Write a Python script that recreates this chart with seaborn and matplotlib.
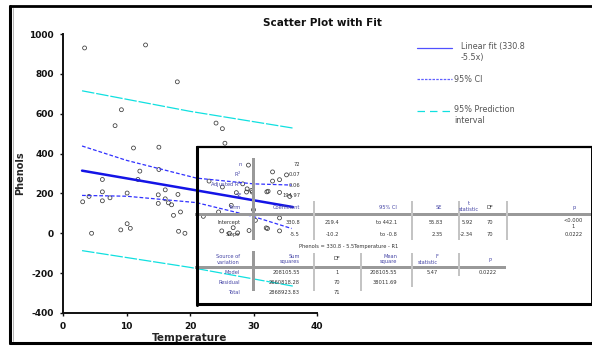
import matplotlib
matplotlib.use("Agg")
import matplotlib.pyplot as plt
import seaborn as sns
import pandas as pd
from matplotlib.patches import Rectangle

# Observations
temperature = [3.4, 13.0, 18.0, 9.2, 8.2, 24.1, 25.1, 11.1, 15.1, 12.1,
               15.1, 6.2, 11.8, 3.1, 4.1, 6.2, 6.2, 7.4, 10.1, 4.5,
               9.1, 10.1, 10.6, 15.0, 15.0, 16.1, 16.1, 16.6, 17.1, 18.1,
               17.4, 18.5, 18.2, 19.2, 25.5, 29.2, 23.0, 27.3, 28.3, 29.0,
               29.7, 28.9, 29.8, 26.5, 25.1, 33.0, 34.1, 33.0, 35.2, 32.1,
               32.3, 34.1, 35.7, 22.1, 30.0, 30.3, 34.1, 25.0, 26.2, 26.8,
               27.5, 29.3, 32.0, 32.2, 34.1, 24.5]
phenols = [930, 945, 760, 620, 540, 553, 525, 428, 432, 312,
           320, 270, 270, 158, 185, 208, 163, 178, 202, 0,
           17, 48, 25, 193, 150, 218, 173, 153, 143, 195,
           90, 107, 10, 0, 452, 342, 262, 204, 248, 223,
           215, 207, 207, 140, 232, 308, 269, 262, 293, 208,
           211, 205, 185, 85, 118, 65, 77, 12, 0, 28,
           2, 14, 27, 24, 12, 107]

# Fitted model and bands
intercept, slope = 330.8, -5.5
fit_x = [3.0, 36.2]
ci_x = [3.0, 10.0, 21.0, 30.0, 36.0]
ci_upper = [438, 366, 277, 248, 242]
ci_lower = [190, 186, 154, 84, 24]
pi_x = [3.0, 20.0, 36.2]
pi_upper = [715, 612, 528]
pi_lower = [-87, -171, -265]

x_ticks = [0, 10, 20, 30, 40]
y_ticks = [-400, -200, 0, 200, 400, 600, 800, 1000]

W, H = 592, 347
BLUE = "#1414e6"
CI_BLUE = "#3030ff"
CYAN = "#10e0e0"
LABEL = "#4646a6"
VALUE = "#333333"

sns.set_style("ticks")
plt.rcParams["font.family"] = ["DejaVu Sans"]
plt.rcParams["axes.unicode_minus"] = False

fig = plt.figure(figsize=(W / 100, H / 100), dpi=100)
ax = fig.add_axes([63 / W, 1 - 313 / H, 254 / W, 279 / H])

pts = pd.DataFrame({"Temperature": temperature, "Phenols": phenols})
sns.scatterplot(data=pts, x="Temperature", y="Phenols", ax=ax, marker="o", s=8,
                facecolor="none", edgecolor="#3a3a3a", linewidth=0.55, zorder=3)

fit_y = [intercept + slope * x for x in fit_x]
sns.lineplot(x=fit_x, y=fit_y, ax=ax, color=BLUE, linewidth=1.8, zorder=4)
for band in (ci_upper, ci_lower):
    sns.lineplot(x=ci_x, y=band, ax=ax, color=CI_BLUE, linewidth=0.9,
                 linestyle=(0, (3, 1.6)), zorder=4)
for band in (pi_upper, pi_lower):
    sns.lineplot(x=pi_x, y=band, ax=ax, color=CYAN, linewidth=0.9,
                 linestyle=(0, (10, 1.5)), zorder=4)

ax.set_xlim(0, 40)
ax.set_ylim(-400, 1000)
ax.set_xticks(x_ticks)
ax.set_yticks(y_ticks)
sns.despine(ax=ax)
for side in ("left", "bottom"):
    ax.spines[side].set_linewidth(1.4)
    ax.spines[side].set_color("#111111")
ax.tick_params(direction="out", length=2.5, width=1, colors="#111111",
               labelsize=6.5, pad=4)
for lab in ax.get_xticklabels() + ax.get_yticklabels():
    lab.set_fontweight("bold")
ax.set_xlabel("Temperature", fontsize=7.5, fontweight="bold", labelpad=1.5)
ax.set_ylabel("Phenols", fontsize=7, fontweight="bold", labelpad=3)
ax.patch.set_alpha(0)

# Pixel-space overlay for title, legend, frame and the summary table
ov = fig.add_axes([0, 0, 1, 1], zorder=5)
ov.set_xlim(0, W)
ov.set_ylim(H, 0)
ov.axis("off")
ov.patch.set_alpha(0)

ov.text(322, 23, "Scatter Plot with Fit", ha="center", va="center",
        fontsize=7.5, fontweight="bold", color="#111111")

# Legend
ov.plot([417, 452], [48, 48], color="#5050ff", lw=0.9)
ov.text(461, 52, "Linear fit (330.8\n-5.5x)", ha="left", va="center",
        fontsize=5.8, color="#555555", linespacing=1.15)
ov.plot([417, 452], [79, 79], color="#6060ff", lw=0.9, linestyle=(0, (2, 1)))
ov.text(454, 79, "95% CI", ha="left", va="center", fontsize=5.8, color="#555555")
ov.plot([417, 452], [111, 111], color=CYAN, lw=0.9, linestyle=(0, (6, 4)))
ov.text(454, 115, "95% Prediction\ninterval", ha="left", va="center",
        fontsize=5.8, color="#555555", linespacing=1.15)

# Outer frame
ov.plot([10, W], [6, 6], color="black", lw=2)
ov.plot([10, 10], [6, 343], color="black", lw=2.2)
ov.plot([10, W], [343, 343], color="black", lw=2.2)
ov.plot([13, 13], [8, 341], color="#aaaaaa", lw=0.6)

# Table frame
ov.plot([197, W], [147, 147], color="black", lw=1.6)
ov.plot([197, 197], [147, 305], color="black", lw=2.2)
ov.plot([197, W], [304, 304], color="black", lw=2.2)
ov.plot([591, 591], [147, 304], color="black", lw=0.7)

GRAY = "#999999"
LIGHT = "#c4c4c4"


def bar(x0, y0, x1, y1, color):
    ov.add_patch(Rectangle((x0, y0), x1 - x0, y1 - y0, color=color, lw=0))


bar(195, 212.5, 591, 215.5, GRAY)
bar(251.5, 158, 254.5, 240, GRAY)
bar(251.5, 251, 254.5, 291, GRAY)
for xv in (314, 412, 459, 507):
    bar(xv - 0.8, 201, xv + 0.8, 240, LIGHT)
bar(195, 265.5, 506, 268.5, GRAY)
for xv, yb in ((314, 291), (361, 291), (412, 287), (459, 276)):
    bar(xv - 0.8, 253, xv + 0.8, yb, LIGHT)

FS = 3.7


def t(x, y, s, ha="center", color=VALUE):
    ov.text(x, y, s, ha=ha, va="center", fontsize=FS, color=color,
            linespacing=1.25)


# Goodness of fit
for y, lab, val in ((164, "n", "72"), (174, "R$^2$", "0.07"),
                    (185, "Adjusted R$^2$", "0.06"), (195, "SE", "194.97")):
    t(242, y, lab, "right", LABEL)
    t(300, y, val, "right")

# Coefficients
t(240, 207, "Term", "right", LABEL)
t(300, 207, "Coefficient", "right", LABEL)
t(397, 207, "95% CI", "right", LABEL)
t(442, 207, "SE", "right", LABEL)
t(469, 206, "t\nstatistic", "center", LABEL)
t(490, 207, "DF", "center", VALUE)
t(574, 207, "p", "center", LABEL)

t(240, 222, "Intercept", "right")
t(300, 222, "330.8", "right")
t(339, 222, "219.4", "right")
t(397, 222, "to 442.1", "right")
t(443, 222, "55.83", "right")
t(473, 222, "5.92", "right")
t(490, 222, "70", "center")
t(573, 223.5, "<0.000\n1", "center")

t(240, 234, "Slope", "right")
t(300, 234, "-5.5", "right")
t(339, 234, "-10.2", "right")
t(397, 234, "to -0.8", "right")
t(443, 234, "2.35", "right")
t(473, 234, "-2.34", "right")
t(490, 234, "70", "center")
t(574, 234, "0.0222", "center")

# Analysis of variance
t(349, 246, "Phenols = 330.8 - 5.5Temperature - R1", "center")
t(240, 259, "Source of\nvariation", "right", LABEL)
t(300, 259, "Sum\nsquares", "right", LABEL)
t(337, 259, "DF", "center", VALUE)
t(397, 259, "Mean\nsquare", "right", LABEL)
t(438, 259, "F\nstatistic", "right", LABEL)
t(490, 260, "P", "center", LABEL)

for y, src, ss, df in ((272, "Model", "208105.55", "1"),
                       (282, "Residual", "2660818.28", "70"),
                       (292, "Total", "2868923.83", "71")):
    t(240, y, src, "right", LABEL)
    t(300, y, ss, "right")
    t(337, y, df, "center")
t(397, 272, "208105.55", "right")
t(397, 282, "38011.69", "right")
t(438, 272, "5.47", "right")
t(488, 272, "0.0222", "center")

fig.savefig("out.png", dpi=100)
